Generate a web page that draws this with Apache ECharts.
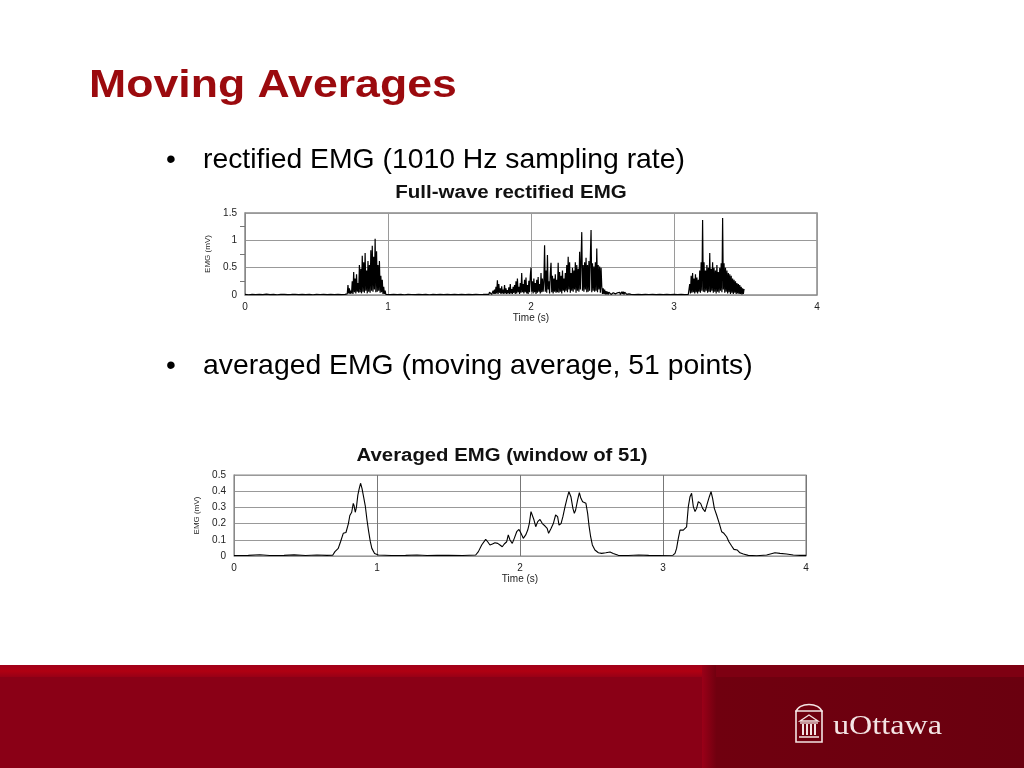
<!DOCTYPE html>
<html>
<head>
<meta charset="utf-8">
<script src="https://cdn.jsdelivr.net/npm/echarts@6/dist/echarts.min.js"></script>
<style>
  html, body { margin: 0; padding: 0; background: #ffffff; }
  #main { width: 1024px; height: 768px; }
</style>
</head>
<body>
<div id="main"></div>
<script>
// ---------- slide text ----------
const slideTitle = 'Moving Averages';
const bullet1 = 'rectified EMG (1010 Hz sampling rate)';
const bullet2 = 'averaged EMG (moving average, 51 points)';
const chart1Title = 'Full-wave rectified EMG';
const chart2Title = 'Averaged EMG (window of 51)';
const xAxisName = 'Time (s)';
const yAxisName = 'EMG (mV)';
const xTicks = [0, 1, 2, 3, 4];
const y1Ticks = [0, 0.5, 1, 1.5];
const y2Ticks = [0, 0.1, 0.2, 0.3, 0.4, 0.5];

// ---------- rectified EMG (segments: start time, sample step, values) ----------
const rectStep = 0.005;
const quietStep = 0.025;
const quiet1Start = 0.0;
const quiet1 = [0.01,0.005,0.012,0.008,0.01,0.006,0.015,0.008,0.01,0.005,0.012,0.01,0.007,0.01,0.014,0.006,0.01,0.008,0.012,0.005,0.01,0.009,0.013,0.006,0.01,0.008,0.011,0.006,0.01];
const burst1Start = 0.715;
const burst1 = [0.02,0.18,0.03,0.12,0.02,0.08,0.03,0.25,0.02,0.42,0.05,0.30,0.03,0.38,0.06,0.22,0.04,0.55,0.05,0.48,0.03,0.72,0.06,0.60,0.04,0.77,0.08,0.45,0.03,0.62,0.06,0.55,0.04,0.82,0.08,0.90,0.06,0.70,0.10,1.03,0.05,0.80,0.06,0.55,0.08,0.62,0.04,0.35,0.05,0.28,0.02,0.15,0.02,0.08,0.01];
const quiet2Start = 0.99;
const quiet2 = [0.01,0.006,0.012,0.008,0.01,0.005,0.011,0.009,0.006,0.012,0.008,0.01,0.005,0.013,0.007,0.01,0.006,0.011,0.008,0.01,0.006,0.012,0.008,0.01,0.007,0.012,0.009,0.01,0.012];
const burst2Start = 1.695;
const burst2 = [
  0.01,0.03,0.01,0.05,0.02,0.06,0.01,0.04,0.08,0.02,
  0.10,0.02,0.15,0.03,0.27,0.02,0.20,0.04,0.12,0.02,
  0.16,0.03,0.10,0.02,0.18,0.03,0.12,0.02,0.09,0.03,
  0.14,0.02,0.20,0.03,0.11,0.02,0.15,0.04,0.18,0.02,
  0.25,0.03,0.30,0.05,0.15,0.02,0.22,0.04,0.40,0.05,
  0.20,0.03,0.28,0.05,0.32,0.03,0.18,0.02,0.26,0.05,
  0.35,0.50,0.06,0.25,0.03,0.30,0.05,0.22,0.02,0.28,
  0.04,0.33,0.06,0.20,0.03,0.40,0.05,0.30,0.06,0.25,
  0.91,0.06,0.45,0.04,0.73,0.10,0.25,0.03,0.40,0.59,
  0.05,0.35,0.03,0.30,0.06,0.38,0.04,0.28,0.05,0.59,
  0.04,0.42,0.06,0.35,0.03,0.45,0.08,0.30,0.05,0.40,
  0.08,0.55,0.05,0.70,0.10,0.60,0.04,0.40,0.08,0.50,
  0.06,0.45,0.10,0.60,0.04,0.55,0.08,0.48,0.06,0.79,
  0.10,0.65,1.15,0.08,0.55,0.06,0.60,0.10,0.68,0.05,
  0.55,0.06,0.62,0.08,0.70,1.19,0.05,0.58,0.08,0.52,
  0.06,0.60,0.08,0.85,0.05,0.55,0.10,0.52,0.04,0.50,
  0.15,0.02,0.12,0.02,0.10,0.01,0.07,0.01,0.06,0.01,
  0.05,0.02,0.04,0.01,0.03,0.02,0.04,0.01,0.03,0.02,
  0.03,0.01,0.04,0.02,0.03,0.05,0.01,0.04,0.06,0.02,
  0.06,0.01,0.05,0.02,0.04,0.01,0.03,0.01,0.02,0.01,
  0.01,0.01
];
const quiet3Start = 2.70;
const quiet3 = [0.01,0.008,0.011,0.006,0.01,0.009,0.012,0.007,0.01,0.006,0.011,0.008,0.01,0.007,0.012,0.008,0.01];
const burst3Start = 3.105;
const burst3 = [
  0.02,0.20,0.03,0.35,0.04,0.40,0.05,0.30,0.03,0.38,
  0.05,0.32,0.03,0.28,0.06,0.45,0.04,0.60,0.08,1.37,
  0.06,0.60,0.05,0.45,0.08,0.55,0.04,0.50,0.06,0.77,
  0.05,0.48,0.08,0.60,0.04,0.50,0.06,0.45,0.03,0.55,
  0.06,0.42,0.04,0.50,0.08,0.58,0.05,1.41,0.10,0.58,
  0.04,0.50,0.06,0.45,0.03,0.40,0.05,0.38,0.02,0.35,
  0.04,0.30,0.02,0.28,0.04,0.25,0.02,0.22,0.03,0.20,
  0.02,0.18,0.02,0.15,0.01,0.12,0.02,0.11
];

// ---------- averaged EMG (time, value) ----------
const avgTime = [0,0.1,0.18,0.25,0.35,0.42,0.5,0.58,0.65,0.69,0.706,0.729,0.745,0.764,0.775,0.783,0.8,0.81,0.823,0.834,0.84,0.848,0.856,0.866,0.876,0.885,0.895,0.906,0.918,0.93,0.941,0.953,0.964,0.983,1.01,1.1,1.2,1.28,1.35,1.42,1.5,1.6,1.69,
  1.709,1.732,1.76,1.774,1.79,1.807,1.825,1.844,1.86,1.876,1.89,1.907,1.918,1.93,1.946,1.96,1.977,1.993,2.007,2.023,2.04,2.054,2.065,2.077,2.086,2.098,2.11,2.124,2.14,2.156,2.175,2.19,2.2,2.217,2.233,2.249,2.263,2.273,2.287,2.3,2.315,2.329,2.342,2.356,2.37,2.38,2.389,2.403,2.415,2.426,2.438,2.45,2.461,2.473,2.482,2.494,2.506,2.524,2.548,2.571,2.6,2.63,2.652,2.687,2.757,2.83,2.9,2.97,3.07,
  3.084,3.095,3.107,3.119,3.13,3.142,3.154,3.165,3.177,3.189,3.2,3.212,3.224,3.235,3.247,3.254,3.263,3.277,3.294,3.31,3.324,3.336,3.347,3.359,3.375,3.394,3.41,3.426,3.445,3.461,3.48,3.496,3.52,3.538,3.562,3.596,3.655,3.725,3.783,3.818,3.864,3.911,3.958,4.0];
const avgEmg = [0.003,0.004,0.008,0.003,0.004,0.007,0.003,0.006,0.004,0.005,0.027,0.047,0.088,0.14,0.15,0.145,0.2,0.25,0.27,0.325,0.31,0.27,0.3,0.376,0.418,0.449,0.418,0.366,0.31,0.222,0.155,0.09,0.047,0.016,0.006,0.003,0.004,0.006,0.003,0.005,0.004,0.003,0.006,
  0.027,0.068,0.103,0.088,0.068,0.074,0.082,0.078,0.068,0.057,0.074,0.088,0.13,0.099,0.078,0.109,0.15,0.164,0.14,0.109,0.13,0.16,0.2,0.274,0.284,0.222,0.181,0.212,0.226,0.2,0.185,0.17,0.14,0.17,0.2,0.253,0.243,0.191,0.2,0.243,0.305,0.356,0.397,0.366,0.294,0.263,0.284,0.346,0.391,0.356,0.335,0.346,0.325,0.263,0.191,0.119,0.068,0.037,0.02,0.016,0.02,0.025,0.016,0.004,0.003,0.006,0.004,0.003,0.005,
  0.016,0.047,0.109,0.16,0.17,0.16,0.15,0.18,0.305,0.366,0.387,0.305,0.274,0.294,0.335,0.346,0.325,0.294,0.274,0.325,0.366,0.397,0.356,0.294,0.253,0.2,0.15,0.14,0.119,0.088,0.062,0.041,0.037,0.02,0.012,0.004,0.002,0.006,0.02,0.016,0.012,0.006,0.004,0.004];

// ---------- build series data ----------
function seg(start, step, vals) { return vals.map((v, i) => [+(start + i * step).toFixed(4), v]); }
const rectData = [].concat(
  seg(quiet1Start, quietStep, quiet1),
  seg(burst1Start, rectStep, burst1),
  seg(quiet2Start, quietStep, quiet2),
  seg(burst2Start, rectStep, burst2),
  seg(quiet3Start, quietStep, quiet3),
  seg(burst3Start, rectStep, burst3)
);
const avgData = avgTime.map((t, i) => [t, avgEmg[i]]);

const FONT = '"Liberation Sans", Arial, sans-serif';
const axisLabelStyle = { color: '#222', fontSize: 10, fontFamily: FONT };

function xAxisCfg(gridIndex, vGridColor) {
  return {
    type: 'value', gridIndex, min: 0, max: 4, interval: 1,
    name: xAxisName, nameLocation: 'middle', nameGap: 18,
    nameTextStyle: { color: '#222', fontSize: 10, fontFamily: FONT },
    axisLine: { show: false }, axisTick: { show: false },
    axisLabel: Object.assign({ margin: 7, formatter: v => xTicks.includes(v) ? String(v) : '' }, axisLabelStyle),
    splitLine: { show: true, lineStyle: { color: vGridColor, width: 1 } }
  };
}
function yAxisCfg(gridIndex, max, interval, ticks, gap, minor) {
  return {
    type: 'value', gridIndex, min: 0, max, interval,
    name: yAxisName, nameLocation: 'middle', nameGap: gap, nameRotate: 90,
    nameTextStyle: { color: '#222', fontSize: 8, fontFamily: FONT },
    axisLine: { show: true, lineStyle: { color: '#888', width: 1 } },
    axisTick: { show: false },
    minorTick: minor ? { show: true, splitNumber: 2, length: 5, lineStyle: { color: '#777' } } : { show: false },
    axisLabel: Object.assign({ margin: 8, formatter: v => ticks.includes(v) ? String(v) : '' }, axisLabelStyle),
    splitLine: { show: true, lineStyle: { color: '#999', width: 1 } }
  };
}

const LOGO = '#f4e4e4';
const chart = echarts.init(document.getElementById('main'), null, { renderer: 'canvas' });
chart.setOption({
  backgroundColor: '#ffffff',
  animation: false,
  grid: [
    { left: 245, top: 213, width: 572, height: 82, show: true, borderColor: '#8a8a8a', borderWidth: 1.5, backgroundColor: '#fff' },
    { left: 234, top: 475, width: 572, height: 81, show: true, borderColor: '#8a8a8a', borderWidth: 1.2, backgroundColor: '#fff' }
  ],
  xAxis: [ xAxisCfg(0, '#9a9a9a'), xAxisCfg(1, '#777') ],
  yAxis: [ yAxisCfg(0, 1.5, 0.5, y1Ticks, 30, true), yAxisCfg(1, 0.5, 0.1, y2Ticks, 28, false) ],
  series: [
    { type: 'line', xAxisIndex: 0, yAxisIndex: 0, data: rectData, showSymbol: false, symbol: 'none',
      lineStyle: { color: '#000', width: 1.2 }, z: 5 },
    { type: 'line', xAxisIndex: 1, yAxisIndex: 1, data: avgData, showSymbol: false, symbol: 'none',
      lineStyle: { color: '#000', width: 1.1 }, z: 5 }
  ],
  graphic: [
    // slide title and bullets
    { type: 'text', x: 89, y: 86, scaleX: 1.144, style: { text: slideTitle, x: 0, y: 0, verticalAlign: 'middle', align: 'left', font: 'bold 39px ' + FONT, fill: '#9b0a0e' } },
    { type: 'text', x: 166, y: 160, style: { text: '\u2022', x: 0, y: 0, verticalAlign: 'middle', font: '28px ' + FONT, fill: '#000' } },
    { type: 'text', x: 203, y: 160, scaleX: 1.012, style: { text: bullet1, x: 0, y: 0, verticalAlign: 'middle', font: '28px ' + FONT, fill: '#000' } },
    { type: 'text', x: 166, y: 366, style: { text: '\u2022', x: 0, y: 0, verticalAlign: 'middle', font: '28px ' + FONT, fill: '#000' } },
    { type: 'text', x: 203, y: 366, scaleX: 1.012, style: { text: bullet2, x: 0, y: 0, verticalAlign: 'middle', font: '28px ' + FONT, fill: '#000' } },
    // chart titles
    { type: 'text', x: 511, y: 193, scaleX: 1.14, style: { text: chart1Title, x: 0, y: 0, align: 'center', verticalAlign: 'middle', font: 'bold 18px ' + FONT, fill: '#111' } },
    { type: 'text', x: 502, y: 456, scaleX: 1.13, style: { text: chart2Title, x: 0, y: 0, align: 'center', verticalAlign: 'middle', font: 'bold 18px ' + FONT, fill: '#111' } },
    // footer
    { type: 'rect', shape: { x: 0, y: 665, width: 1024, height: 103 }, style: { fill: '#8a0016' }, z: 100 },
    { type: 'rect', shape: { x: 0, y: 665, width: 1024, height: 12 },
      style: { fill: { type: 'linear', x: 0, y: 0, x2: 0, y2: 1, colorStops: [
        { offset: 0, color: '#a0001a' }, { offset: 0.5, color: '#b00012' }, { offset: 1, color: '#980016' } ] } }, z: 101 },
    { type: 'rect', shape: { x: 702, y: 665, width: 322, height: 103 },
      style: { fill: { type: 'linear', x: 0, y: 0, x2: 1, y2: 0, colorStops: [
        { offset: 0, color: '#9a0018' }, { offset: 0.045, color: '#70000f' }, { offset: 1, color: '#6a000f' } ] } }, z: 102 },
    { type: 'rect', shape: { x: 716, y: 665, width: 308, height: 12 }, style: { fill: '#7e0012' }, z: 103 },
    // logo: building icon
    { type: 'rect', z: 110, shape: { x: 796, y: 711, width: 26, height: 31 }, style: { fill: 'none', stroke: LOGO, lineWidth: 1.6 } },
    { type: 'bezierCurve', z: 110, shape: { x1: 796, y1: 712, x2: 822, y2: 712, cpx1: 798, cpy1: 702, cpx2: 820, cpy2: 702 },
      style: { fill: 'none', stroke: LOGO, lineWidth: 1.6 } },
    { type: 'polygon', z: 110, shape: { points: [[800, 721], [809, 715], [818, 721]] }, style: { fill: 'none', stroke: LOGO, lineWidth: 1.3 } },
    { type: 'line', z: 110, shape: { x1: 800, y1: 723, x2: 818, y2: 723 }, style: { stroke: LOGO, lineWidth: 1.3 } },
    { type: 'rect', z: 110, shape: { x: 802, y: 724, width: 2, height: 11 }, style: { fill: LOGO } },
    { type: 'rect', z: 110, shape: { x: 806, y: 724, width: 2, height: 11 }, style: { fill: LOGO } },
    { type: 'rect', z: 110, shape: { x: 810, y: 724, width: 2, height: 11 }, style: { fill: LOGO } },
    { type: 'rect', z: 110, shape: { x: 814, y: 724, width: 2, height: 11 }, style: { fill: LOGO } },
    { type: 'line', z: 110, shape: { x1: 799, y1: 737, x2: 819, y2: 737 }, style: { stroke: LOGO, lineWidth: 1.5 } },
    { type: 'text', z: 110, x: 833, y: 727, scaleX: 1.15, style: { text: 'uOttawa', x: 0, y: 0, verticalAlign: 'middle', font: '28px "Liberation Serif", "DejaVu Serif", serif', fill: LOGO } }
  ]
});
</script>
</body>
</html>
